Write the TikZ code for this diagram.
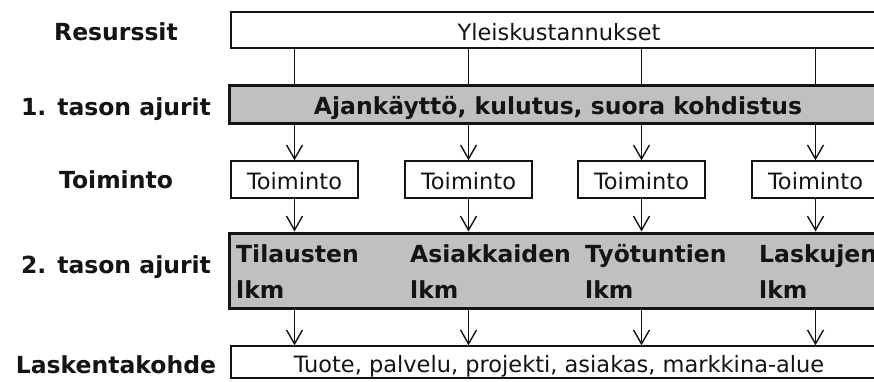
\documentclass[tikz,border=0pt]{standalone}
\usepackage{fontspec}
\setmainfont{DejaVu Sans}
\usetikzlibrary{arrows.meta}
\definecolor{barfill}{RGB}{192,192,192}
\definecolor{ink}{RGB}{20,20,20}
\tikzset{
  lbl/.style={font=\fontsize{23.5}{28}\selectfont\bfseries, text=ink, anchor=base, inner sep=0pt},
  plainbox/.style={draw=ink, line width=1.4pt, fill=white, inner sep=0pt, font=\fontsize{22.5}{27}\selectfont, text=ink, text height=20pt, text depth=0pt},
  barbox/.style={draw=ink, line width=3pt, fill=barfill, inner sep=0pt, font=\fontsize{23.5}{28}\selectfont\bfseries, text=ink, text height=20pt, text depth=0pt},
  bartext/.style={font=\fontsize{23.5}{28}\selectfont\bfseries, text=ink, anchor=base west, inner sep=0pt},
  link/.style={draw=ink, line width=1.4pt},
  arrowlink/.style={link, -{Straight Barb[length=14pt, width=16pt, line width=1.4pt]}}
}
\begin{document}
\begin{tikzpicture}[x=1pt, y=-1pt]
\useasboundingbox (0,0) rectangle (874,381);
\clip (0,0) rectangle (874,381);
\fill[white] (0,0) rectangle (874,381);

% left labels
\node[lbl] (l1) at (116,40) {Resurssit};
\node[lbl] (l2) at (116,115) {1. tason ajurit};
\node[lbl] (l3) at (116,188) {Toiminto};
\node[lbl] (l4) at (116,273) {2. tason ajurit};
\node[lbl] (l5) at (116,373) {Laskentakohde};

% boxes
\node[plainbox, minimum width=656pt, minimum height=36pt] (top) at (559,30) {Yleiskustannukset};
\node[barbox, minimum width=658pt, minimum height=38pt] (bar1) at (558,104) {Ajankäyttö, kulutus, suora kohdistus};
\node[plainbox, minimum width=127pt, minimum height=37pt] (t1) at (294.5,179.5) {Toiminto};
\node[plainbox, minimum width=127pt, minimum height=37pt] (t2) at (468.5,179.5) {Toiminto};
\node[plainbox, minimum width=127pt, minimum height=37pt] (t3) at (641.5,179.5) {Toiminto};
\node[plainbox, minimum width=127pt, minimum height=37pt] (t4) at (815.5,179.5) {Toiminto};
\node[barbox, minimum width=658pt, minimum height=75pt] (bar2) at (558,270.5) {};
\node[plainbox, minimum width=656pt, minimum height=32pt] (bot) at (559,362) {Tuote, palvelu, projekti, asiakas, markkina-alue};

% texts in second bar
\node[bartext] (a1) at (236,262) {Tilausten};
\node[bartext] (a1b) at (236,298) {lkm};
\node[bartext] (a2) at (410,262) {Asiakkaiden};
\node[bartext] (a2b) at (410,298) {lkm};
\node[bartext] (a3) at (585,262) {Työtuntien};
\node[bartext] (a3b) at (585,298) {lkm};
\node[bartext] (a4) at (759,262) {Laskujen};
\node[bartext] (a4b) at (759,298) {lkm};

% connectors
\foreach \t in {t1,t2,t3,t4}{
  \draw[link] (top.south -| \t) -- (bar1.north -| \t);
  \draw[arrowlink] (bar1.south -| \t) -- (\t.north);
  \draw[arrowlink] (\t.south) -- (bar2.north -| \t);
  \draw[arrowlink] (bar2.south -| \t) -- (bot.north -| \t);
}
\end{tikzpicture}
\end{document}
